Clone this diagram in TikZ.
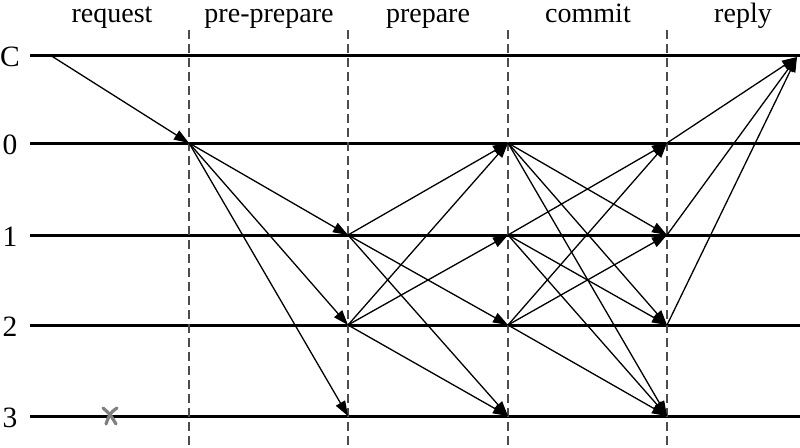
\documentclass[tikz,border=0pt]{standalone}
\usepackage{fontspec}
\setmainfont{Liberation Serif}
\usetikzlibrary{arrows.meta}
\begin{document}
\begin{tikzpicture}[x=1pt,y=-1pt,
  lane/.style={line width=3pt,black},
  phase/.style={line width=1.4pt,draw=black!70,dash pattern=on 9pt off 5pt},
  msg/.style={line width=1.3pt,-{Triangle[length=15pt,width=10.5pt]}},
  lbl/.style={font=\fontsize{28}{30}\selectfont,inner sep=0pt},
  side/.style={font=\fontsize{29.5}{31}\selectfont,inner sep=0pt},
  crash/.style={line width=3.2pt,draw=black!50,line cap=round}]
\useasboundingbox (0,0) rectangle (800,447);
% lanes
\foreach \n/\y in {C/55,0/143,1/235,2/325,3/416}{
  \node[side,anchor=center] (l\n) at (10,\y+2) {\n};
  \coordinate (s\n) at (30,\y);
  \coordinate (e\n) at (800,\y);
  \draw[lane] (s\n) -- (e\n);
}
% phase separators
\foreach \i/\x in {1/189,2/348,3/508,4/667}{
  \coordinate (t\i) at (\x,30);
  \coordinate (b\i) at (\x,447);
  \draw[phase] (t\i) -- (b\i);
}
% phase labels
\node[lbl,anchor=base] (hreq) at (112,23) {request};
\node[lbl,anchor=base] (hpre) at (269,23) {pre-prepare};
\node[lbl,anchor=base] (hprep) at (428,23) {prepare};
\node[lbl,anchor=base] (hcom) at (588,23) {commit};
\node[lbl,anchor=base] (hrep) at (743,23) {reply};
% event points
\coordinate (c0) at (50,55);
\coordinate (cend) at (797,57);
\foreach \n/\y in {0/143,1/235,2/325,3/416}{
  \coordinate (a\n) at (189,\y);
  \coordinate (b\n) at (348,\y);
  \coordinate (p\n) at (508,\y);
  \coordinate (m\n) at (667,\y);
}
% request
\draw[msg] (c0) -- (a0);
% pre-prepare
\foreach \t in {1,2,3} \draw[msg] (a0) -- (b\t);
% prepare
\foreach \t in {0,2,3} \draw[msg] (b1) -- (p\t);
\foreach \t in {0,1,3} \draw[msg] (b2) -- (p\t);
% commit
\foreach \t in {1,2,3} \draw[msg] (p0) -- (m\t);
\foreach \t in {0,2,3} \draw[msg] (p1) -- (m\t);
\foreach \t in {0,1,3} \draw[msg] (p2) -- (m\t);
% reply
\foreach \s in {0,1,2} \draw[msg] (m\s) -- (cend);
% crash mark
\coordinate (x1) at (103,408);
\coordinate (x2) at (116,424);
\coordinate (x3) at (117,408);
\coordinate (x4) at (106,424);
\draw[crash] (x1) .. controls (110,414) .. (x2);
\draw[crash] (x3) .. controls (110,413) .. (x4);
\end{tikzpicture}
\end{document}
